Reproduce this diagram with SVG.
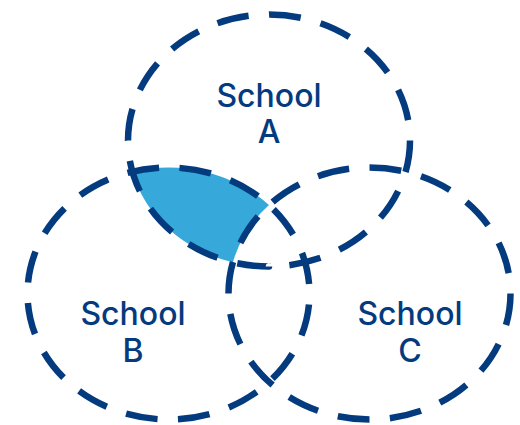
<svg xmlns="http://www.w3.org/2000/svg" width="520" height="425" viewBox="0 0 520 425">
<style>
.ring{fill:none;stroke:#033b7e;stroke-width:6.5;stroke-dasharray:32 20.5}
.lbl{font-family:Inter,"Noto Sans",sans-serif;font-size:32px;font-weight:500;fill:#033b7e;text-anchor:middle}
</style>
<rect width="520" height="425" fill="#fff"/>
<path id="overlap" d="M132.4,171.7 A141,126 0 0,1 269,205.1 A141,126 0 0,0 232.9,262.3 A141,126 0 0,1 132.4,171.7 Z" fill="#36a9da"/>
<g id="schoolA">
<ellipse class="ring" cx="269" cy="140.5" rx="141" ry="126" pathLength="840" stroke-dashoffset="0"/>
<text class="lbl" x="269" y="107">School</text>
<text class="lbl" x="269" y="143">A</text>
</g>
<g id="schoolB">
<ellipse class="ring" cx="168.5" cy="293.5" rx="141" ry="126" pathLength="840" stroke-dashoffset="-11"/>
<text class="lbl" x="133" y="325">School</text>
<text class="lbl" x="133" y="362">B</text>
</g>
<g id="schoolC">
<ellipse class="ring" cx="369.5" cy="293.5" rx="141" ry="126" pathLength="840" stroke-dashoffset="0"/>
<text class="lbl" x="410" y="325">School</text>
<text class="lbl" x="410" y="362">C</text>
</g>
<g id="connectors"></g>
</svg>
